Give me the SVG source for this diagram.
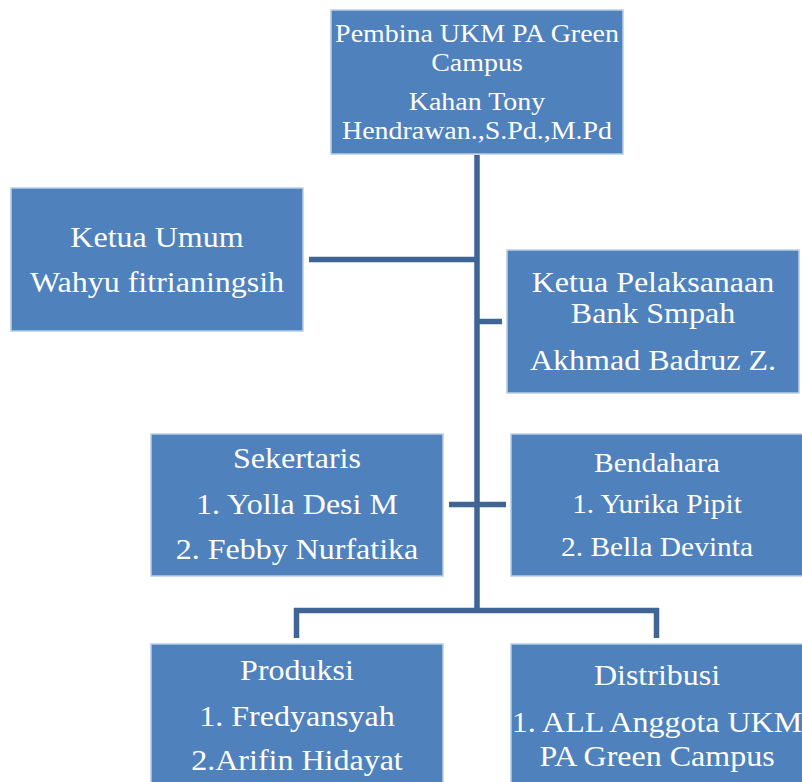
<svg xmlns="http://www.w3.org/2000/svg" width="802" height="782" viewBox="0 0 802 782">
<style>
.box{fill:#4F81BD;stroke:#B9CDE5;stroke-width:1.5}
.t{font-family:"Liberation Serif","Times New Roman",serif;fill:#FFFFFF;text-anchor:middle}
.f26{font-size:26px}
.f29{font-size:29.5px}
.f27{font-size:27px}
.ln{stroke:#3E6595;stroke-width:5.5;fill:none}
</style>
<rect width="802" height="782" fill="#FFFFFF"/>
<g id="connectors">
<line class="ln" x1="477" y1="155" x2="477" y2="611"/>
<line class="ln" x1="309" y1="259.5" x2="477" y2="259.5"/>
<line class="ln" x1="477" y1="321.5" x2="502" y2="321.5"/>
<line class="ln" x1="449" y1="504.5" x2="506" y2="504.5"/>
<line class="ln" x1="294" y1="610.5" x2="659" y2="610.5"/>
<line class="ln" x1="296.5" y1="608" x2="296.5" y2="638"/>
<line class="ln" x1="656.5" y1="608" x2="656.5" y2="638"/>
</g>
<g id="pembina">
<rect class="box" x="331" y="10" width="292" height="144"/>
<g transform="translate(477 0) scale(1.075 1)">
<text class="t f26" x="0" y="42">Pembina UKM PA Green</text>
<text class="t f26" x="0" y="71">Campus</text>
<text class="t f26" x="0" y="110">Kahan Tony</text>
<text class="t f26" x="0" y="139">Hendrawan.,S.Pd.,M.Pd</text>
</g>
</g>
<g id="ketua-umum">
<rect class="box" x="11" y="188" width="292" height="143"/>
<g transform="translate(157 0) scale(1.085 1)">
<text class="t f29" x="0" y="247">Ketua Umum</text>
<text class="t f29" x="0" y="292">Wahyu fitrianingsih</text>
</g>
</g>
<g id="ketua-pelaksanaan">
<rect class="box" x="507" y="250" width="292" height="143"/>
<g transform="translate(653 0) scale(1.085 1)">
<text class="t f29" x="0" y="292">Ketua Pelaksanaan</text>
<text class="t f29" x="0" y="323">Bank Smpah</text>
<text class="t f29" x="0" y="370">Akhmad Badruz Z.</text>
</g>
</g>
<g id="sekertaris">
<rect class="box" x="151" y="434" width="292" height="142"/>
<g transform="translate(297 0) scale(1.085 1)">
<text class="t f29" x="0" y="468">Sekertaris</text>
<text class="t f29" x="0" y="514">1. Yolla Desi M</text>
<text class="t f29" x="0" y="559">2. Febby Nurfatika</text>
</g>
</g>
<g id="bendahara">
<rect class="box" x="511" y="434" width="292" height="142"/>
<g transform="translate(657 0) scale(1.09 1)">
<text class="t f27" x="0" y="472">Bendahara</text>
<text class="t f27" x="0" y="513">1. Yurika Pipit</text>
<text class="t f27" x="0" y="556">2. Bella Devinta</text>
</g>
</g>
<g id="produksi">
<rect class="box" x="151" y="644" width="292" height="143"/>
<g transform="translate(297 0) scale(1.085 1)">
<text class="t f29" x="0" y="680">Produksi</text>
<text class="t f29" x="0" y="726">1. Fredyansyah</text>
<text class="t f29" x="0" y="770">2.Arifin Hidayat</text>
</g>
</g>
<g id="distribusi">
<rect class="box" x="511" y="644" width="292" height="143"/>
<g transform="translate(657 0) scale(1.085 1)">
<text class="t f29" x="0" y="685">Distribusi</text>
<text class="t f29" x="0" y="732">1. ALL Anggota UKM</text>
<text class="t f29" x="0" y="766">PA Green Campus</text>
</g>
</g>
</svg>
